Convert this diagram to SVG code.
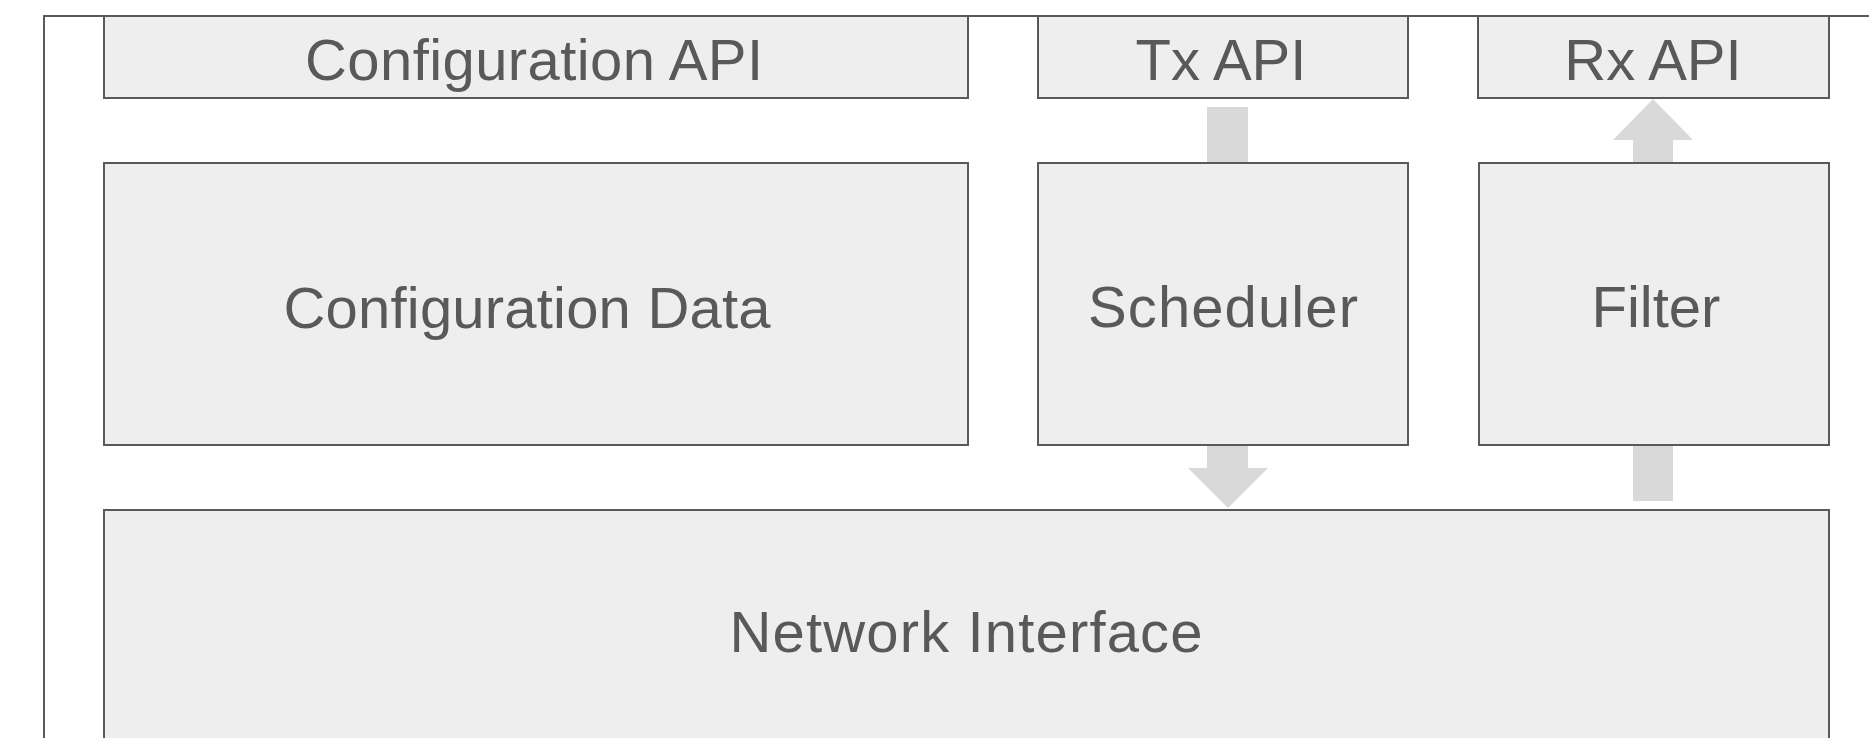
<svg xmlns="http://www.w3.org/2000/svg" width="1869" height="738" viewBox="0 0 1869 738">
<style>
.box{fill:#eeeeee;stroke:#595959;stroke-width:2}
.frame{fill:none;stroke:#595959;stroke-width:2}
.arrow{fill:#d9d9d9;stroke:none}
.lbl{font-family:"Liberation Sans",Arial,sans-serif;font-size:58px;fill:#595959;text-anchor:middle}
</style>
<rect width="1869" height="738" fill="#ffffff"/>
<rect class="frame" x="44" y="16" width="1900" height="800"/>
<g id="connectors">
<polygon class="arrow" points="1207,107 1248,107 1248,468 1268,468 1228,508 1188,468 1207,468"/>
<polygon class="arrow" points="1633,501 1673,501 1673,140 1693,140 1653,99 1613,140 1633,140"/>
</g>
<g id="config-api">
<rect class="box" x="104" y="16" width="864" height="82"/>
<text class="lbl" x="534" y="80" textLength="458">Configuration API</text>
</g>
<g id="tx-api">
<rect class="box" x="1038" y="16" width="370" height="82"/>
<text class="lbl" x="1221" y="80">Tx API</text>
</g>
<g id="rx-api">
<rect class="box" x="1478" y="16" width="351" height="82"/>
<text class="lbl" x="1653" y="80">Rx API</text>
</g>
<g id="config-data">
<rect class="box" x="104" y="163" width="864" height="282"/>
<text class="lbl" x="527" y="328" textLength="487">Configuration Data</text>
</g>
<g id="scheduler">
<rect class="box" x="1038" y="163" width="370" height="282"/>
<text class="lbl" x="1223" y="327" textLength="270">Scheduler</text>
</g>
<g id="filter">
<rect class="box" x="1479" y="163" width="350" height="282"/>
<text class="lbl" x="1656" y="327">Filter</text>
</g>
<g id="network-interface">
<rect class="box" x="104" y="510" width="1725" height="300"/>
<text class="lbl" x="966" y="652" textLength="473">Network Interface</text>
</g>
</svg>
